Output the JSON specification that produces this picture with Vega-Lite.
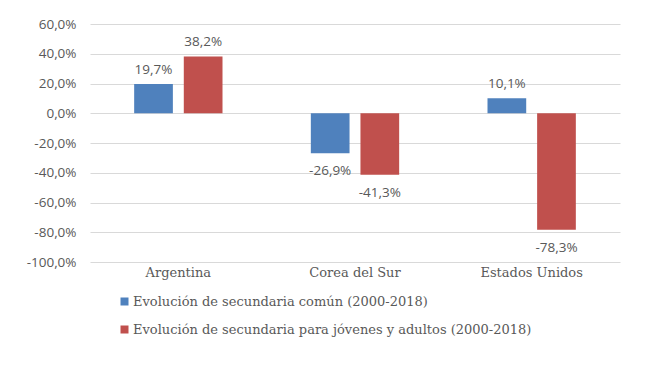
{
  "$schema": "https://vega.github.io/schema/vega-lite/v6.json",
  "autosize": {"type": "none"},
  "width": 530,
  "height": 238,
  "padding": {"left": 90, "top": 24, "right": 29, "bottom": 106},
  "background": "white",
  "config": {
    "locale": {"number": {"decimal": ",", "thousands": ".", "grouping": [3], "currency": ["", " €"], "minus": "-"}},
    "view": {"stroke": null},
    "axis": {"labelColor": "#595959", "gridColor": "#d9d9d9", "domain": false, "ticks": false}
  },
  "data": {
    "values": [
      {"pais": "Argentina", "serie": "Evolución de secundaria común (2000-2018)", "valor": 0.197},
      {"pais": "Argentina", "serie": "Evolución de secundaria para jóvenes y adultos (2000-2018)", "valor": 0.382},
      {"pais": "Corea del Sur", "serie": "Evolución de secundaria común (2000-2018)", "valor": -0.269},
      {"pais": "Corea del Sur", "serie": "Evolución de secundaria para jóvenes y adultos (2000-2018)", "valor": -0.413},
      {"pais": "Estados Unidos", "serie": "Evolución de secundaria común (2000-2018)", "valor": 0.101},
      {"pais": "Estados Unidos", "serie": "Evolución de secundaria para jóvenes y adultos (2000-2018)", "valor": -0.783}
    ]
  },
  "encoding": {
    "x": {
      "field": "pais", "type": "nominal", "sort": null,
      "scale": {"paddingInner": 0.5, "paddingOuter": 0.25},
      "axis": {"title": null, "labelAngle": 0, "labelFont": "DejaVu Serif", "labelFontSize": 13, "labelPadding": 4, "grid": false}
    },
    "xOffset": {"field": "serie", "type": "nominal", "scale": {"paddingInner": 0.22, "paddingOuter": 0}},
    "y": {
      "field": "valor", "type": "quantitative",
      "scale": {"domain": [-1, 0.6], "nice": false, "zero": false},
      "axis": {"title": null, "format": ".1%", "values": [-1, -0.8, -0.6, -0.4, -0.2, 0, 0.2, 0.4, 0.6], "labelFont": "Open Sans", "labelFontSize": 13.5, "labelPadding": 14, "grid": true}
    }
  },
  "layer": [
    {
      "mark": {"type": "bar"},
      "encoding": {
        "color": {
          "field": "serie", "type": "nominal",
          "scale": {"range": ["#4F81BD", "#C0504D"]},
          "legend": {
            "title": null, "orient": "none", "legendX": 28, "legendY": 271, "direction": "vertical",
            "symbolType": "square", "symbolSize": 64, "symbolStrokeWidth": 0,
            "labelFont": "DejaVu Serif", "labelFontSize": 13, "labelColor": "#595959",
            "labelLimit": 600, "rowPadding": 14, "labelOffset": 2
          }
        }
      }
    },
    {
      "transform": [{"filter": "datum.valor >= 0"}],
      "mark": {"type": "text", "baseline": "bottom", "dy": -7, "font": "Open Sans", "fontSize": 13.5, "color": "#595959"},
      "encoding": {"text": {"field": "valor", "type": "quantitative", "format": ".1%"}}
    },
    {
      "transform": [{"filter": "datum.valor < 0"}],
      "mark": {"type": "text", "baseline": "top", "dy": 11, "font": "Open Sans", "fontSize": 13.5, "color": "#595959"},
      "encoding": {"text": {"field": "valor", "type": "quantitative", "format": ".1%"}}
    }
  ]
}
